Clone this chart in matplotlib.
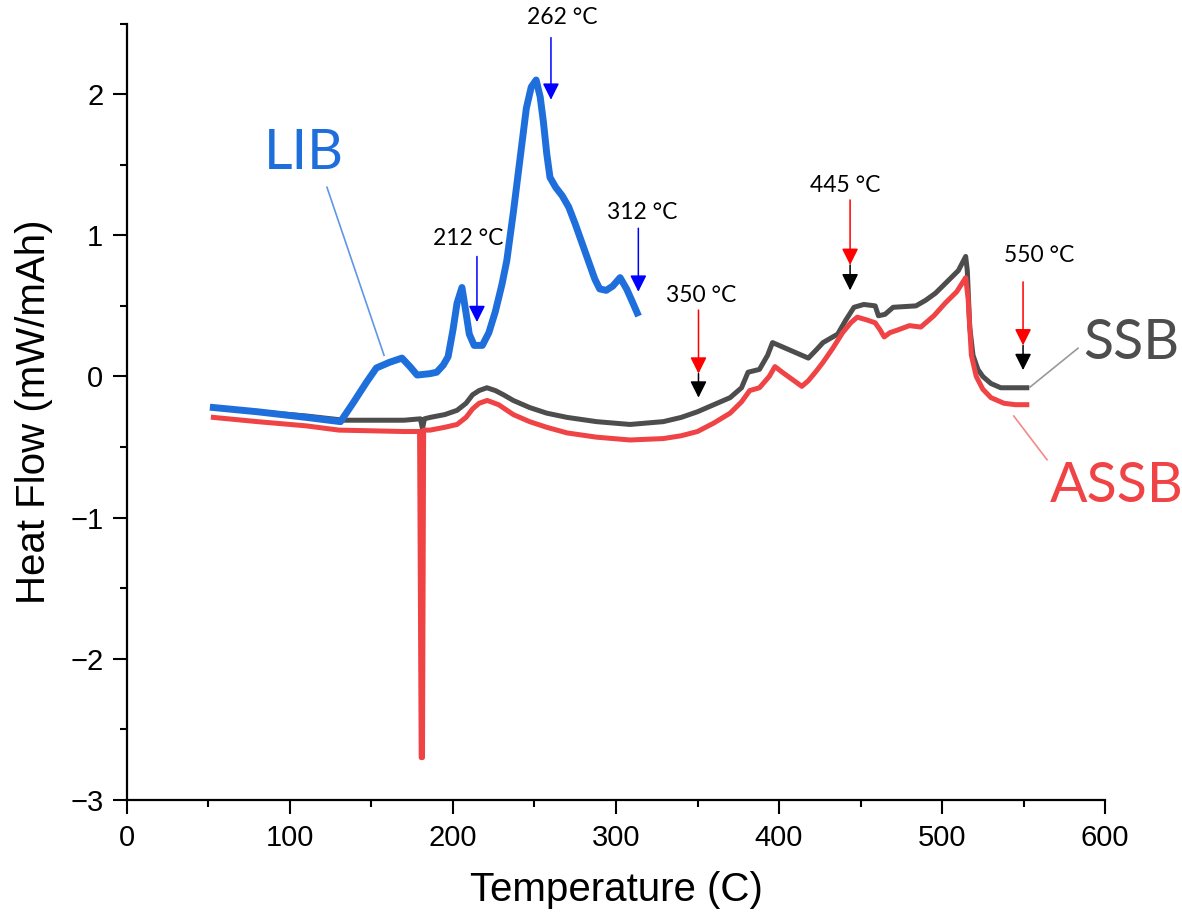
import numpy as np
import matplotlib.pyplot as plt
from matplotlib.ticker import MultipleLocator

# ---- data ----
lib_T = [53, 80, 110, 131, 138.6, 147, 153, 161, 168.7, 173.6, 178, 186, 190, 194, 197,
         200, 202.5, 205.5, 208, 210, 213, 218, 222, 226, 230, 233, 237, 241, 245, 248,
         251, 253.5, 255.5, 257.5, 259.5, 263, 267, 271, 275, 279, 283, 287, 290, 294,
         298, 302.5, 306.5, 310, 313]
lib_hf = [-0.22, -0.25, -0.29, -0.32, -0.19, -0.04, 0.06, 0.10, 0.13, 0.07, 0.01, 0.02,
          0.03, 0.08, 0.14, 0.33, 0.52, 0.63, 0.45, 0.30, 0.22, 0.22, 0.31, 0.46, 0.65,
          0.82, 1.16, 1.53, 1.90, 2.05, 2.10, 1.98, 1.80, 1.58, 1.41, 1.34, 1.28, 1.20,
          1.08, 0.95, 0.82, 0.69, 0.62, 0.61, 0.64, 0.70, 0.62, 0.53, 0.45]

ssb_T = [53, 80, 110, 133, 150, 170, 180, 181.3, 182.5, 186, 195, 202.5, 208, 212, 216,
         220.8, 226, 231, 237, 247, 257.5, 270, 288, 308.6, 329, 340, 350, 360, 370, 377,
         381, 388, 393, 396, 400, 410, 418, 423, 427, 436, 441, 446, 452, 459, 461, 465,
         470, 484, 490, 496, 503, 510, 514.5, 515.5, 517, 519, 522, 525, 530, 536, 545,
         552]
ssb_hf = [-0.22, -0.25, -0.28, -0.31, -0.31, -0.31, -0.30, -0.37, -0.30, -0.29, -0.27,
          -0.24, -0.19, -0.13, -0.10, -0.08, -0.10, -0.13, -0.17, -0.22, -0.26, -0.29,
          -0.32, -0.34, -0.32, -0.29, -0.25, -0.20, -0.15, -0.08, 0.03, 0.05, 0.15, 0.24,
          0.22, 0.17, 0.13, 0.19, 0.24, 0.30, 0.40, 0.49, 0.51, 0.50, 0.43, 0.44, 0.49,
          0.50, 0.54, 0.59, 0.67, 0.75, 0.85, 0.75, 0.35, 0.15, 0.05, 0.00, -0.05, -0.08,
          -0.08, -0.08]

assb_T = [53, 80, 110, 130, 150, 170, 179.5, 180.5, 181.3, 182, 186, 195, 202.5, 208, 212,
          216, 221, 228, 237, 247, 257.5, 270, 288, 308.6, 329, 340, 350, 360, 370, 377,
          382, 388, 394, 397.5, 402, 408, 414, 418, 423, 427, 433, 439, 444, 448, 454,
          459, 462, 464.5, 468, 473, 480, 487, 495, 502, 509, 514.5, 516, 518, 521, 525,
          530, 538, 545, 552]
assb_hf = [-0.29, -0.32, -0.35, -0.38, -0.385, -0.39, -0.39, -2.70, -2.70, -0.38, -0.38,
           -0.36, -0.34, -0.29, -0.23, -0.19, -0.17, -0.20, -0.27, -0.32, -0.36, -0.40,
           -0.43, -0.45, -0.44, -0.42, -0.39, -0.33, -0.26, -0.18, -0.10, -0.08, 0.00,
           0.07, 0.03, -0.02, -0.07, -0.03, 0.04, 0.10, 0.20, 0.31, 0.38, 0.42, 0.40,
           0.38, 0.33, 0.28, 0.31, 0.33, 0.36, 0.35, 0.43, 0.52, 0.60, 0.70, 0.55, 0.15,
           0.00, -0.09, -0.15, -0.19, -0.20, -0.20]

# onset markers: label, x, top of arrow, tip(s), label position
lib_marks = [("212 °C", 214.7, 0.85, 0.385, (209.2, 0.98)),
             ("262 °C", 260.1, 2.40, 1.96, (266.9, 2.54)),
             ("312 °C", 313.7, 1.05, 0.60, (316.0, 1.16))]
ssb_marks = [("350 °C", 350.6, 0.47, 0.02, -0.15, (352.0, 0.57)),
             ("445 °C", 443.6, 1.25, 0.79, 0.61, (440.5, 1.35)),
             ("550 °C", 549.7, 0.67, 0.22, 0.045, (559.5, 0.86))]

c_lib = '#1e6fdc'
c_ssb = '#4d4d4d'
c_assb = '#f04345'

fig = plt.figure(figsize=(11.82, 9.23), dpi=100)
ax = fig.add_axes([0.1074, 0.1333, 0.8275, 0.8412])

ax.plot(ssb_T, ssb_hf, color=c_ssb, lw=3.6, solid_joinstyle='round')
ax.plot(assb_T, assb_hf, color=c_assb, lw=3.6, solid_joinstyle='round')
ax.plot(lib_T, lib_hf, color=c_lib, lw=5, solid_joinstyle='round')

ahead = '-|>,head_length=1.0,head_width=0.5'

def arrow(x, y0, y1, col):
    ax.annotate('', xy=(x, y1), xytext=(x, y0),
                arrowprops=dict(arrowstyle=ahead, color=col, lw=1.1,
                                shrinkA=0, shrinkB=0, mutation_scale=10))

lab_font = dict(family=['Lato', 'DejaVu Sans'], fontsize=16.5, ha='center', va='center')
for lab, x, top, tip, pos in lib_marks:
    arrow(x, top, tip, 'blue')
    ax.text(pos[0], pos[1], lab, **lab_font)
for lab, x, top, rtip, btip, pos in ssb_marks:
    arrow(x, top, rtip, 'red')
    arrow(x, rtip, btip, 'black')
    ax.text(pos[0], pos[1], lab, **lab_font)

# series names with leader lines
big = dict(family=['Lato', 'DejaVu Sans'], fontsize=40, ha='center', va='center')
ax.text(108.6, 1.58, 'LIB', color=c_lib, **big)
ax.plot([122.7, 157.7], [1.34, 0.15], color='#5f97e6', lw=1.2)
ax.text(616, 0.23, 'SSB', color=c_ssb, clip_on=False, **big)
ax.plot([554, 583.4], [-0.075, 0.20], color='#999999', lw=1.2, clip_on=False)
ax.text(607, -0.78, 'ASSB', color=c_assb, clip_on=False, **big)
ax.plot([544, 564.4], [-0.28, -0.59], color='#f08a8a', lw=1.2, clip_on=False)

ax.set_xlim(0, 600)
ax.set_ylim(-3, 2.5)
ax.xaxis.set_major_locator(MultipleLocator(100))
ax.xaxis.set_minor_locator(MultipleLocator(50))
ax.yaxis.set_major_locator(MultipleLocator(1))
ax.yaxis.set_minor_locator(MultipleLocator(0.5))
for s in ['top', 'right']:
    ax.spines[s].set_visible(False)
for s in ['left', 'bottom']:
    ax.spines[s].set_linewidth(1.6)
ax.tick_params(which='major', direction='out', length=10, width=1.5, pad=7,
               labelsize=21)
ax.tick_params(which='minor', direction='out', length=5, width=1.5)
for t in ax.get_xticklabels() + ax.get_yticklabels():
    t.set_family(['Liberation Sans', 'DejaVu Sans'])

ax.set_xlabel('Temperature (C)', fontsize=29, family=['Liberation Sans', 'DejaVu Sans'],
              labelpad=14)
ax.set_ylabel('Heat Flow (mW/mAh)', fontsize=29, family=['Liberation Sans', 'DejaVu Sans'],
              labelpad=12)

fig.savefig('out.png', dpi=100)
